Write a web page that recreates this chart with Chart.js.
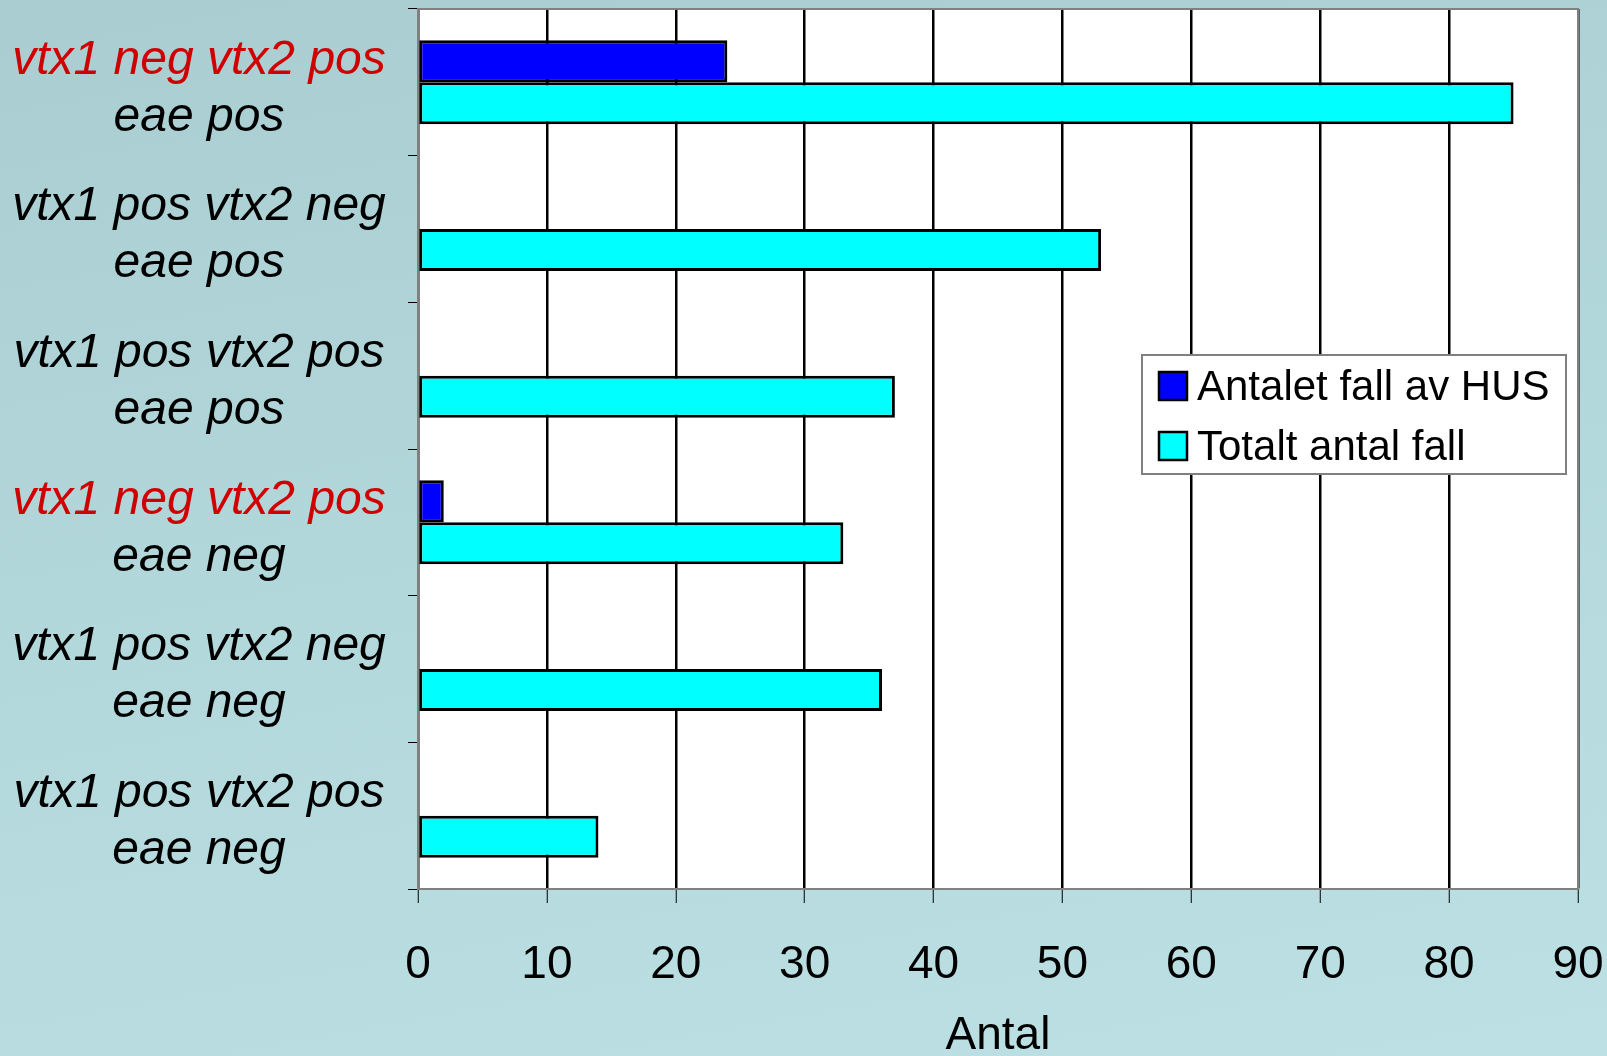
<!DOCTYPE html>
<html>
<head>
<meta charset="utf-8">
<script src="https://cdn.jsdelivr.net/npm/chart.js@4/dist/chart.umd.min.js"></script>
<style>
  html, body { margin: 0; padding: 0; }
  body {
    width: 1607px; height: 1056px; overflow: hidden;
    background: linear-gradient(170deg, #a9cdd0 0%, #b3d8db 50%, #bce0e3 100%);
  }
  #wrap { position: relative; width: 1607px; height: 1056px; }
</style>
</head>
<body>
<div id="wrap"><canvas id="chart"></canvas></div>
<script>
// data
const categories = [
  ['vtx1 neg vtx2 pos', 'eae pos'],
  ['vtx1 pos vtx2 neg', 'eae pos'],
  ['vtx1 pos vtx2 pos', 'eae pos'],
  ['vtx1 neg vtx2 pos', 'eae neg'],
  ['vtx1 pos vtx2 neg', 'eae neg'],
  ['vtx1 pos vtx2 pos', 'eae neg']
];
const husCases   = [24, null, null, 2, null, null];
const totalCases = [85, 53, 37, 33, 36, 14];
const xTicks     = [0, 10, 20, 30, 40, 50, 60, 70, 80, 90];
const seriesNames = ['Antalet fall av HUS', 'Totalt antal fall'];
const axisTitle  = 'Antal';

// first line of a category label is red for the vtx1 neg vtx2 pos groups
const firstLineColors = ['#d00000', '#000', '#000', '#d00000', '#000', '#000'];

const FONT = '"Liberation Sans", Arial, sans-serif';

// white plot area + grey frame
const plotFrame = {
  id: 'plotFrame',
  beforeDraw(chart) {
    const { ctx, chartArea: a } = chart;
    ctx.save();
    ctx.fillStyle = '#fff';
    ctx.fillRect(a.left, a.top, a.right - a.left, a.bottom - a.top);
    ctx.restore();
  },
  afterDraw(chart) {
    const { ctx, chartArea: a } = chart;
    ctx.save();
    ctx.strokeStyle = '#808080';
    ctx.lineWidth = 2;
    ctx.strokeRect(a.left, a.top, a.right - a.left, a.bottom - a.top);
    ctx.restore();
  }
};

// two-line category labels, first line may be red
const categoryLabels = {
  id: 'categoryLabels',
  afterDraw(chart) {
    const { ctx } = chart;
    const y = chart.scales.y;
    ctx.save();
    ctx.font = 'italic 48px ' + FONT;
    ctx.textAlign = 'center';
    ctx.textBaseline = 'middle';
    categories.forEach((lines, i) => {
      const cy = y.getPixelForValue(i);
      ctx.fillStyle = firstLineColors[i];
      ctx.fillText(lines[0], 199, cy - 22);
      ctx.fillStyle = '#000';
      ctx.fillText(lines[1], 199, cy + 35);
    });
    ctx.restore();
  }
};

// legend box inside the plot
const boxLegend = {
  id: 'boxLegend',
  afterDraw(chart) {
    const { ctx } = chart;
    const x0 = 1142, y0 = 355, w = 424, h = 119;
    ctx.save();
    ctx.fillStyle = '#fff';
    ctx.fillRect(x0, y0, w, h);
    ctx.strokeStyle = '#808080';
    ctx.lineWidth = 2;
    ctx.strokeRect(x0, y0, w, h);
    ctx.font = '42px ' + FONT;
    ctx.textBaseline = 'middle';
    chart.data.datasets.forEach((ds, i) => {
      const cy = y0 + 31 + i * 60;
      ctx.fillStyle = ds.backgroundColor;
      ctx.fillRect(x0 + 17, cy - 14, 28, 28);
      ctx.strokeStyle = '#000';
      ctx.lineWidth = 2.5;
      ctx.strokeRect(x0 + 17, cy - 14, 28, 28);
      ctx.fillStyle = '#000';
      ctx.fillText(ds.label, x0 + 55, cy + 2);
    });
    ctx.restore();
  }
};

new Chart(document.getElementById('chart'), {
  type: 'bar',
  data: {
    labels: categories,
    datasets: [
      {
        label: seriesNames[0],
        data: husCases,
        backgroundColor: '#0000ff',
        borderColor: '#000',
        borderWidth: 3,
        borderSkipped: false,
        categoryPercentage: 0.573,
        barPercentage: 1.0
      },
      {
        label: seriesNames[1],
        data: totalCases,
        backgroundColor: '#00ffff',
        borderColor: '#000',
        borderWidth: 3,
        borderSkipped: false,
        categoryPercentage: 0.573,
        barPercentage: 1.0
      }
    ]
  },
  options: {
    indexAxis: 'y',
    responsive: true,
    maintainAspectRatio: false,
    animation: false,
    layout: { padding: { top: 9, right: 0, left: 0, bottom: 0 } },
    scales: {
      y: {
        type: 'category',
        offset: true,
        grid: {
          offset: true,
          drawOnChartArea: false,
          drawTicks: true,
          tickLength: 10,
          color: '#000',
          lineWidth: 1
        },
        border: { display: false },
        ticks: { display: false },
        afterFit(scale) { scale.width = 418; }
      },
      x: {
        min: 0,
        max: 90,
        afterBuildTicks(scale) { scale.ticks = xTicks.map(v => ({ value: v })); },
        grid: {
          color: '#000',
          lineWidth: 2.5,
          tickLength: 14,
          tickColor: '#000',
          tickWidth: 1
        },
        border: { color: '#808080', width: 2 },
        ticks: {
          color: '#000',
          font: { family: FONT, size: 46 },
          padding: 35,
          maxRotation: 0
        },
        title: {
          display: true,
          text: axisTitle,
          color: '#000',
          font: { family: FONT, size: 46, lineHeight: 0.85 },
          padding: { top: 0, bottom: 0 }
        },
        afterFit(scale) {
          scale.height = 167;
          // only keep room for half of the last tick label on the right
          scale.paddingRight = 29;
          scale.paddingLeft = 0;
        }
      }
    },
    plugins: {
      legend: { display: false },
      tooltip: { enabled: false }
    }
  },
  plugins: [plotFrame, categoryLabels, boxLegend]
});
</script>
</body>
</html>
